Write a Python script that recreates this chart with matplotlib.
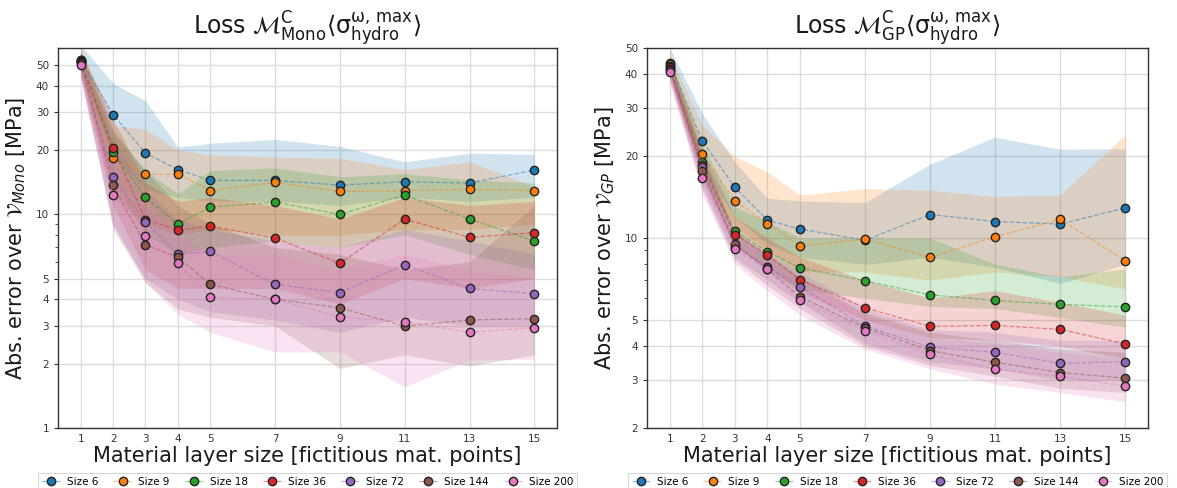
import numpy as np
import matplotlib
matplotlib.use("Agg")
import matplotlib.pyplot as plt
from matplotlib.colors import to_rgba
from matplotlib.ticker import FixedLocator, NullFormatter, FixedFormatter

# Material layer sizes (x axis)
layer_sizes = [1, 2, 3, 4, 5, 7, 9, 11, 13, 15]
series_labels = ["Size 6", "Size 9", "Size 18", "Size 36", "Size 72", "Size 144", "Size 200"]
series_colors = ["#1f77b4", "#ff7f0e", "#2ca02c", "#d62728", "#9467bd", "#8c564b", "#e377c2"]

# ---- Mono loss: median error and min/max band per size ----
mono_mid = {
    "Size 6":   [53.0, 29.3, 19.3, 16.2, 14.4, 14.4, 13.7, 14.2, 14.0, 16.1],
    "Size 9":   [52.5, 18.3, 15.4, 15.4, 12.9, 14.1, 12.8, 12.9, 13.1, 12.9],
    "Size 18":  [52.0, 19.5, 12.0, 9.0, 10.8, 11.4, 10.0, 12.3, 9.5, 7.5],
    "Size 36":  [52.0, 20.5, 9.45, 8.45, 8.8, 7.75, 5.9, 9.5, 7.8, 8.2],
    "Size 72":  [51.5, 15.0, 9.2, 6.5, 6.7, 4.7, 4.3, 5.8, 4.5, 4.25],
    "Size 144": [51.0, 13.7, 7.2, 6.3, 4.7, 4.0, 3.65, 3.0, 3.2, 3.25],
    "Size 200": [50.0, 12.3, 7.9, 5.9, 4.1, 4.0, 3.3, 3.15, 2.8, 2.95],
}
mono_lo = {
    "Size 6":   [47, 19, 13, 12, 11.5, 11.5, 11, 12, 11.5, 12],
    "Size 9":   [46, 12, 9, 8, 8.5, 8, 8, 8.5, 8.5, 9],
    "Size 18":  [46, 14, 8, 6.5, 7, 7.5, 7, 8, 6.5, 5.5],
    "Size 36":  [45, 11, 5.5, 4.5, 4.5, 4.5, 3.8, 5, 4.5, 5],
    "Size 72":  [44, 9, 5, 4, 3.5, 3.2, 2.8, 3.3, 3, 3],
    "Size 144": [44, 8.5, 4.8, 3.6, 3.3, 3, 1.9, 2.2, 1.95, 2.2],
    "Size 200": [43, 8.9, 4.8, 3.4, 2.8, 2.27, 2.27, 1.56, 2.08, 2.1],
}
mono_hi = {
    "Size 6":   [62, 41, 34, 20.6, 21.5, 22.4, 20.8, 17.6, 19.3, 19.1],
    "Size 9":   [60, 26, 25, 20, 19, 18.5, 18.3, 16.2, 17.6, 13.5],
    "Size 18":  [58, 25, 16, 12.5, 16, 16.5, 15, 15.5, 14.5, 14],
    "Size 36":  [58, 28, 14, 11.5, 12, 11, 9.5, 12, 11, 11.5],
    "Size 72":  [57, 22, 13, 9.5, 8.5, 7.5, 7, 8.5, 7.5, 6.5],
    "Size 144": [57, 24, 16, 11, 9, 7, 6.5, 5.5, 6, 11],
    "Size 200": [56, 18, 11, 8, 6.5, 6.5, 5.5, 6.5, 5.5, 5],
}

# ---- GP loss: median error and min/max band per size ----
gp_mid = {
    "Size 6":   [44.2, 22.7, 15.4, 11.6, 10.8, 9.8, 12.2, 11.5, 11.25, 12.9],
    "Size 9":   [43.5, 20.3, 13.7, 11.3, 9.36, 9.9, 8.5, 10.1, 11.7, 8.24],
    "Size 18":  [43.0, 19.0, 10.6, 8.9, 7.77, 6.96, 6.18, 5.89, 5.70, 5.58],
    "Size 36":  [42.5, 18.6, 10.3, 8.67, 7.02, 5.54, 4.73, 4.77, 4.61, 4.08],
    "Size 72":  [42.0, 18.2, 9.3, 7.83, 6.62, 4.74, 3.97, 3.80, 3.46, 3.51],
    "Size 144": [41.5, 17.6, 9.49, 7.7, 6.08, 4.67, 3.85, 3.49, 3.20, 3.05],
    "Size 200": [40.9, 16.6, 9.1, 7.66, 5.89, 4.56, 3.73, 3.29, 3.10, 2.85],
}
gp_lo = {
    "Size 6":   [40, 18, 12, 9.5, 8.5, 8, 8.5, 7.8, 6.8, 8],
    "Size 9":   [40, 17, 11, 9, 7.5, 7.5, 7, 7.5, 7.2, 6.5],
    "Size 18":  [40, 17, 9.5, 7.5, 6.5, 6, 5.6, 5.5, 5.1, 4.7],
    "Size 36":  [39, 16.5, 9.3, 7.8, 6.3, 5, 4.3, 4.2, 4.0, 3.6],
    "Size 72":  [38, 15.5, 8.5, 7, 5.8, 4.1, 3.5, 3.3, 3.0, 3.0],
    "Size 144": [38, 15, 8.3, 6.7, 5.5, 4.0, 3.4, 3.1, 2.8, 2.7],
    "Size 200": [37, 14.5, 8.0, 6.4, 5.2, 3.9, 3.3, 2.9, 2.7, 2.5],
}
gp_hi = {
    "Size 6":   [50, 28.7, 19, 14, 13.7, 13.5, 18.7, 23.5, 21.2, 21.3],
    "Size 9":   [47, 26, 20, 17.5, 14.4, 15.2, 15.0, 14.2, 14.4, 24.0],
    "Size 18":  [46, 22, 13, 11.5, 10, 10, 10, 8, 7.2, 7.7],
    "Size 36":  [45, 21, 12, 10, 8.5, 7, 6, 6.4, 5.8, 5.2],
    "Size 72":  [45, 20.5, 10.5, 8.8, 7.5, 5.5, 4.6, 4.5, 4.2, 4.2],
    "Size 144": [45, 20, 10.5, 8.7, 7.2, 5.3, 4.5, 4.2, 3.9, 3.8],
    "Size 200": [44, 19, 10.2, 8.5, 7, 5.2, 4.3, 4.1, 3.8, 3.6],
}

mono_yticks = [1, 2, 3, 4, 5, 10, 20, 30, 40, 50]
gp_yticks = [2, 3, 4, 5, 10, 20, 30, 40, 50]
minor_yticks = [6, 7, 8, 9]

title_mono = r"Loss $\mathcal{M}^{\mathrm{C}}_{\mathrm{Mono}}\langle\mathrm{\sigma}^{\mathrm{\omega,\,max}}_{\mathrm{hydro}}\rangle$"
title_gp = r"Loss $\mathcal{M}^{\mathrm{C}}_{\mathrm{GP}}\langle\mathrm{\sigma}^{\mathrm{\omega,\,max}}_{\mathrm{hydro}}\rangle$"
ylabel_mono = r"Abs. error over $\mathcal{V}_{Mono}$ [MPa]"
ylabel_gp = r"Abs. error over $\mathcal{V}_{GP}$ [MPa]"
xlabel = "Material layer size [fictitious mat. points]"

plt.rcParams["font.family"] = ["DejaVu Sans"]
plt.rcParams["mathtext.fontset"] = "dejavusans"

W, H = 1177, 488
fig = plt.figure(figsize=(W / 100, H / 100), dpi=100)
fig.patch.set_facecolor("white")

ax_mono = fig.add_axes([58 / W, 1 - 428 / H, (557 - 58) / W, (428 - 48) / H])
ax_gp = fig.add_axes([647 / W, 1 - 428 / H, (1148 - 647) / W, (428 - 48) / H])


def draw_panel(ax, mid, lo, hi, yticks, ylim, title, ylabel):
    for lab, col in zip(series_labels, series_colors):
        ax.fill_between(layer_sizes, lo[lab], hi[lab], color=col, alpha=0.2, lw=0)
        ax.plot(layer_sizes, mid[lab], ls="--", lw=0.9, color=to_rgba(col, 0.5),
                marker="o", markersize=6, markerfacecolor=col,
                markeredgecolor="#222222", markeredgewidth=1.0, label=lab)
    ax.set_yscale("log")
    ax.set_ylim(*ylim)
    ax.set_xlim(0.3, 15.7)
    ax.set_xticks(layer_sizes)
    ax.set_xticklabels([str(v) for v in layer_sizes])
    ax.yaxis.set_major_locator(FixedLocator(yticks))
    ax.yaxis.set_major_formatter(FixedFormatter([str(v) for v in yticks]))
    ax.yaxis.set_minor_locator(FixedLocator(minor_yticks))
    ax.yaxis.set_minor_formatter(NullFormatter())
    ax.grid(True, which="major", color="#dcdcdc", lw=1.0)
    ax.set_axisbelow(True)
    ax.tick_params(axis="both", which="major", labelsize=7.5, colors="#333333",
                   length=3, width=0.8)
    ax.tick_params(axis="x", which="major", length=0, pad=4)
    ax.tick_params(axis="y", which="minor", length=2, width=0.6, colors="#333333")
    for sp in ax.spines.values():
        sp.set_color("#333333")
        sp.set_linewidth(1.0)
    ax.set_title(title, fontsize=17, pad=6, color="#1a1a1a")
    ax.set_ylabel(ylabel, fontsize=15, color="#1a1a1a", labelpad=6)
    ax.set_xlabel(xlabel, fontsize=15, color="#1a1a1a", labelpad=2)
    leg = ax.legend(loc="upper center", bbox_to_anchor=(0.5, -0.105), ncol=7,
                    fontsize=7.5, frameon=True, fancybox=False, handlelength=1.8,
                    columnspacing=1.45, borderpad=0.35, handletextpad=0.6)
    leg.get_frame().set_edgecolor("#cccccc")
    leg.get_frame().set_linewidth(0.8)


draw_panel(ax_mono, mono_mid, mono_lo, mono_hi, mono_yticks, (1, 60), title_mono, ylabel_mono)
draw_panel(ax_gp, gp_mid, gp_lo, gp_hi, gp_yticks, (2, 50), title_gp, ylabel_gp)

fig.savefig("out.png", dpi=100)
